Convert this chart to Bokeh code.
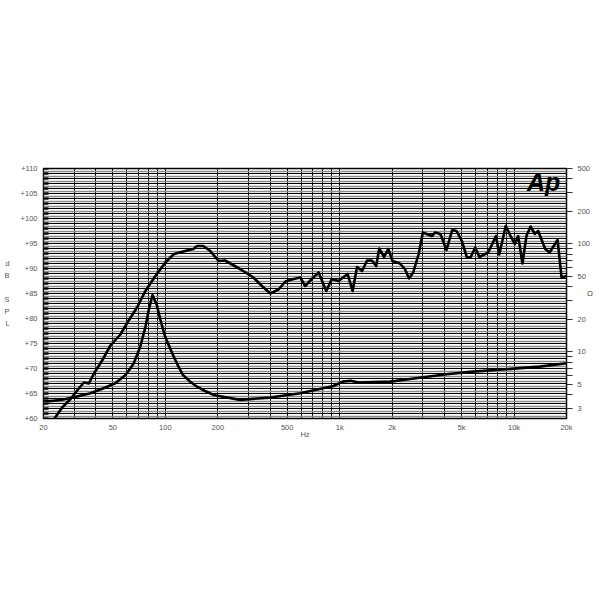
from bokeh.plotting import figure
from bokeh.models import Range1d, LogScale, LogAxis, FixedTicker, Grid, Label
from bokeh.embed import file_html
from bokeh.resources import INLINE

# ---- data ----
spl_freq = [22.5, 25.6, 28.6, 31.2, 34.1, 36.4, 38.8, 43.4, 48.4, 55.2, 61.6, 68.8, 76.8, 87.7,
            100, 112, 133, 145, 152, 165, 181, 202, 220, 268, 320, 358, 400, 446, 488, 545,
            594, 634, 692, 757, 838, 900, 985, 1110, 1186, 1258, 1344, 1436, 1530, 1620, 1686,
            1798, 1900, 2010, 2216, 2366, 2500, 2640, 2834, 3000, 3376, 3530, 3780, 4100, 4420,
            4680, 5020, 5370, 5650, 5990, 6330, 7110, 7880, 8230, 8960, 9560, 10100, 10560,
            11180, 11780, 12440, 13170, 13760, 15100, 16000, 17770, 18740, 20000]
spl_db = [59.4, 62.2, 63.9, 65.6, 67.2, 67.0, 68.9, 71.6, 74.6, 76.8, 79.6, 82.2, 85.5, 88.5,
          91.2, 92.9, 93.6, 93.9, 94.5, 94.5, 93.5, 91.5, 91.6, 89.9, 88.2, 86.5, 85.0, 85.8,
          87.4, 87.9, 88.2, 86.5, 87.9, 89.2, 85.5, 87.9, 87.5, 88.9, 85.5, 90.3, 89.5, 91.6,
          91.6, 90.5, 94.0, 92.3, 93.9, 91.5, 91.0, 89.9, 88.0, 89.2, 92.8, 97.2, 96.5, 97.2,
          96.9, 93.7, 97.7, 97.5, 95.5, 92.2, 92.3, 94.2, 92.3, 93.2, 96.5, 92.8, 98.5, 96.5,
          94.9, 96.5, 91.0, 96.5, 98.4, 96.9, 97.5, 93.9, 93.2, 95.7, 88.2, 88.5]

imp_freq = [20, 25.2, 29.9, 37.2, 44.2, 51.7, 59.0, 62.8, 65.9, 71.8, 76.9, 80.3, 84.4, 89.3,
            93.7, 99.6, 106, 111.7, 119, 126, 139, 152, 169, 189, 268, 400, 594, 920, 1040,
            1160, 1280, 1950, 3020, 4100, 5800, 9000, 14000, 20000]
imp_ohm = [3.47, 3.59, 3.80, 4.15, 4.61, 5.13, 6.13, 7.0, 7.86, 11.2, 17.1, 24.5, 33.7, 27.2,
           19.8, 13.9, 11.0, 9.05, 7.3, 6.13, 5.3, 4.77, 4.35, 4.0, 3.6, 3.78, 4.15, 4.84, 5.31,
           5.42, 5.2, 5.31, 5.83, 6.22, 6.58, 6.92, 7.31, 7.85]

x_ticks = [20, 50, 100, 200, 500, 1000, 2000, 5000, 10000, 20000]
x_tick_labels = ["20", "50", "100", "200", "500", "1k", "2k", "5k", "10k", "20k"]
y_ticks = [60, 65, 70, 75, 80, 85, 90, 95, 100, 105, 110]
y_tick_labels = ["+60", "+65", "+70", "+75", "+80", "+85", "+90", "+95", "+100", "+105", "+110"]
ohm_ticks = [3, 5, 10, 20, 50, 100, 200, 500]
ohm_minor = [2, 4, 6, 7, 8, 9, 30, 40, 60, 70, 80, 90, 300, 400]

FONT = "Liberation Sans"
TXT = "#555555"

p = figure(width=600, height=600, x_axis_type="log",
           x_range=Range1d(20, 20000), y_range=Range1d(60, 110),
           output_backend="svg", toolbar_location=None,
           min_border_left=43, min_border_right=34, min_border_top=168, min_border_bottom=182)
p.background_fill_color = "white"
p.border_fill_color = "white"
p.outline_line_color = "black"
p.outline_line_width = 1.5

# x axis
xa = p.xaxis[0]
xa.ticker = FixedTicker(ticks=x_ticks, minor_ticks=[])
xa.major_label_overrides = {t: l for t, l in zip(x_ticks, x_tick_labels)}
xa.axis_line_color = None
xa.major_tick_out = 0
xa.major_tick_in = 0
xa.minor_tick_out = 0
xa.major_label_text_font = FONT
xa.major_label_text_font_size = "7.5px"
xa.major_label_text_color = TXT
xa.major_label_standoff = 4
xa.axis_label = "Hz"
xa.axis_label_text_font = FONT
xa.axis_label_text_font_size = "7.5px"
xa.axis_label_text_font_style = "normal"
xa.axis_label_text_color = TXT
xa.axis_label_standoff = -5

# left axis
ya = p.yaxis[0]
ya.ticker = FixedTicker(ticks=y_ticks, minor_ticks=[60.25 + 0.5 * i for i in range(100)])
ya.major_label_overrides = {t: l for t, l in zip(y_ticks, y_tick_labels)}
ya.axis_line_color = None
ya.major_tick_out = 0
ya.major_tick_in = 0
ya.minor_tick_in = 5
ya.minor_tick_out = 0
ya.minor_tick_line_color = "#444444"
ya.major_label_text_font = FONT
ya.major_label_text_font_size = "7.5px"
ya.major_label_text_color = TXT
ya.major_label_standoff = 6
ya.axis_label = "d\nB\n\nS\nP\nL"
ya.axis_label_orientation = "horizontal"
ya.axis_label_text_font = FONT
ya.axis_label_text_font_size = "7.5px"
ya.axis_label_text_font_style = "normal"
ya.axis_label_text_color = TXT
ya.axis_label_text_line_height = 1.35
ya.axis_label_standoff = 8

# grids
grid_x = []
for dec in [10, 100, 1000, 10000]:
    for m in range(1, 10):
        v = dec * m
        if 20 <= v <= 20000:
            grid_x.append(v)
p.xgrid.ticker = FixedTicker(ticks=grid_x)
p.xgrid.grid_line_color = "black"
p.xgrid.grid_line_width = 1
p.ygrid.ticker = FixedTicker(ticks=list(range(60, 111)))
p.ygrid.grid_line_color = "black"
p.ygrid.grid_line_width = 1
p.add_layout(Grid(dimension=1, ticker=FixedTicker(ticks=[60.5 + i for i in range(50)]),
                  grid_line_color="#8c8c8c", grid_line_width=1.3))

# right impedance axis
p.extra_y_ranges = {"ohm": Range1d(2.42, 500)}
p.extra_y_scales = {"ohm": LogScale()}
ra = LogAxis(y_range_name="ohm", ticker=FixedTicker(ticks=ohm_ticks, minor_ticks=ohm_minor))
ra.axis_line_color = None
ra.major_tick_in = 0
ra.major_tick_out = 6
ra.minor_tick_in = 0
ra.minor_tick_out = 6
ra.major_tick_line_color = "#333333"
ra.minor_tick_line_color = "#333333"
ra.major_label_text_font = FONT
ra.major_label_text_font_size = "7.5px"
ra.major_label_text_color = TXT
ra.major_label_standoff = 5
ra.axis_label = "Ω"
ra.axis_label_orientation = "horizontal"
ra.axis_label_text_font = FONT
ra.axis_label_text_font_size = "8px"
ra.axis_label_text_font_style = "normal"
ra.axis_label_text_color = TXT
ra.axis_label_standoff = -6
p.add_layout(ra, "right")

# curves
p.line(spl_freq, spl_db, line_color="black", line_width=2.6, line_join="round")
p.line(imp_freq, imp_ohm, y_range_name="ohm", line_color="black", line_width=2.6, line_join="round")

# logo
p.add_layout(Label(x=14800, y=107.4, text="Ap", text_font=FONT, text_font_size="25px",
                   text_font_style="bold italic", text_color="black",
                   text_align="center", text_baseline="middle"))

open("out.html", "w").write(file_html(p, INLINE))
